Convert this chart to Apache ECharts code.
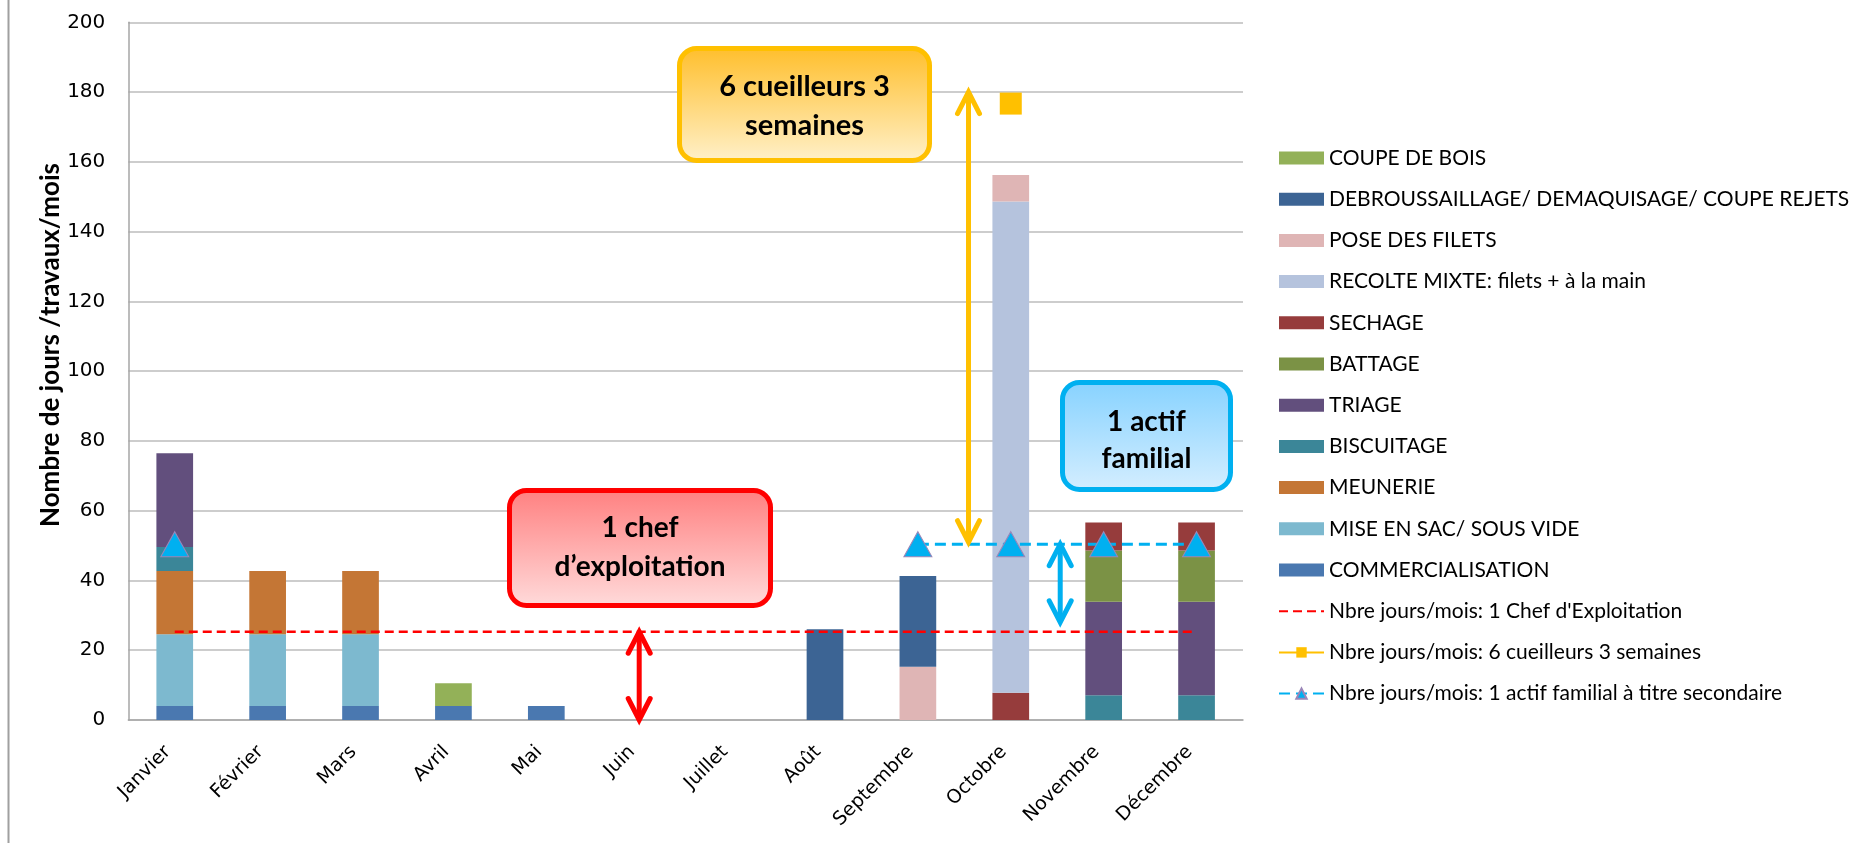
<!DOCTYPE html>
<html><head><meta charset="utf-8">
<script src="https://cdn.jsdelivr.net/npm/echarts@6/dist/echarts.min.js"></script>
<style>html,body{margin:0;padding:0;background:#fff}#c{width:1856px;height:843px}</style>
</head><body><div id="c"></div>
<script>
// ---- data ----
const months = ['Janvier','Février','Mars','Avril','Mai','Juin','Juillet','Août','Septembre','Octobre','Novembre','Décembre'];
const yTicks = [0,20,40,60,80,100,120,140,160,180,200];
// stacked activities (bottom -> top)
const commercialisation = [4,4,4,4,4,null,null,null,null,null,null,null];
const miseEnSac        = [20.6,20.6,20.6,null,null,null,null,null,null,null,null,null];
const meunerie         = [18.1,18.1,18.1,null,null,null,null,null,null,null,null,null];
const biscuitage       = [6.9,null,null,null,null,null,null,null,null,null,7.1,7.1];
const triage           = [26.9,null,null,null,null,null,null,null,null,null,26.8,26.8];
const battage          = [null,null,null,null,null,null,null,null,null,null,14.7,14.7];
const sechage          = [null,null,null,null,null,null,null,null,null,7.8,8.0,8.0];
const recolteMixte     = [null,null,null,null,null,null,null,null,null,140.8,null,null];
const poseFilets       = [null,null,null,null,null,null,null,null,15.3,7.6,null,null];
const debroussaillage  = [null,null,null,null,null,null,null,26.0,26.0,null,null,null];
const coupeBois        = [null,null,null,6.5,null,null,null,null,null,null,null,null];
// reference lines
const chefExploitation = [25.3,25.3,25.3,25.3,25.3,25.3,25.3,25.3,25.3,25.3,25.3,25.3];
const cueilleurs       = [null,null,null,null,null,null,null,null,null,176.7,null,null];
const actifFamilial    = [50.4,null,null,null,null,null,null,null,50.4,50.4,50.4,50.4];

const barDefs = [
  ['COMMERCIALISATION', commercialisation, '#4A78B0'],
  ['MISE EN SAC/ SOUS VIDE', miseEnSac, '#7DB9CF'],
  ['MEUNERIE', meunerie, '#C47635'],
  ['BISCUITAGE', biscuitage, '#3B8698'],
  ['TRIAGE', triage, '#624F7D'],
  ['BATTAGE', battage, '#7B9245'],
  ['SECHAGE', sechage, '#963C3C'],
  ['RECOLTE MIXTE: filets + à la main', recolteMixte, '#B5C3DD'],
  ['POSE DES FILETS', poseFilets, '#DFB5B5'],
  ['DEBROUSSAILLAGE/ DEMAQUISAGE/ COUPE REJETS', debroussaillage, '#3C6494'],
  ['COUPE DE BOIS', coupeBois, '#93B158']
];
const lineNames = ["Nbre jours/mois: 1 Chef d'Exploitation","Nbre jours/mois: 6 cueilleurs 3 semaines","Nbre jours/mois: 1 actif familial à titre secondaire"];
const yTitle = 'Nombre de jours /travaux/mois';

const chart = echarts.init(document.getElementById('c'));
const series = barDefs.map(d => ({
  name: d[0], type: 'bar', stack: 'jours', data: d[1], barWidth: '39.5%',
  itemStyle: {color: d[2]}, emphasis: {disabled: true}
}));
series.push({
  name: lineNames[0], type: 'line', data: chefExploitation, symbol: 'none', z: 5,
  lineStyle: {color: '#FF0000', width: 2.5, type: [9,5]}, itemStyle: {color: '#FF0000'}
});
series.push({
  name: lineNames[1], type: 'line', data: cueilleurs, symbol: 'rect', symbolSize: 22, z: 6,
  lineStyle: {color: '#FFC000', width: 3}, itemStyle: {color: '#FFC000'}
});
series.push({
  name: lineNames[2], type: 'line', data: actifFamilial, symbol: 'triangle', symbolSize: [28,25], z: 7,
  connectNulls: false, showSymbol: true,
  lineStyle: {color: '#00B0F0', width: 3, type: [11,6]},
  itemStyle: {color: '#00B0F0', borderColor: '#9A86B8', borderWidth: 1}
});

const legendData = barDefs.slice().reverse().map(d => ({name: d[0], icon: 'rect'}))
  .concat([
    {name: lineNames[0], itemStyle: {opacity: 0}},
    {name: lineNames[1]},
    {name: lineNames[2]}
  ]);

chart.setOption({
  animation: false,
  grid: {left: 128.3, right: 613, top: 22.3, bottom: 123, containLabel: false},
  legend: {
    orient: 'vertical', left: 1273, top: 142, data: legendData,
    itemWidth: 45, itemHeight: 13, itemGap: 19.2, selectedMode: false,
    textStyle: {fontFamily: 'Lato', fontSize: 21, color: '#000', lineHeight: 22, padding: [0,0,0,0]}
  },
  xAxis: {
    type: 'category', data: months,
    axisLine: {lineStyle: {color: '#A6A6A6', width: 1.5}},
    axisTick: {show: false},
    axisLabel: {interval: 0, rotate: 45, margin: 22, padding: [0,10,0,0], fontFamily: 'DejaVu Sans', fontSize: 19, color: '#000'}
  },
  yAxis: {
    type: 'value', min: 0, max: 200, interval: 20,
    axisLine: {show: true, lineStyle: {color: '#A6A6A6', width: 1.5}},
    axisTick: {show: false},
    splitLine: {lineStyle: {color: '#BDBDBD', width: 1.5}},
    axisLabel: {margin: 23, fontFamily: 'DejaVu Sans', fontSize: 20, color: '#000',
      formatter: v => yTicks.indexOf(v) >= 0 ? String(v) : ''}
  },
  series: series
});

// ---- annotations ----
const py = v => chart.convertToPixel({yAxisIndex: 0}, v);
const px = m => chart.convertToPixel({xAxisIndex: 0}, m);
function box(x0, y0, x1, y1, stroke, c0, c1, lines, ly, fs) {
  const els = [{
    type: 'rect', z: 50,
    shape: {x: x0 + 2.5, y: y0 + 2.5, width: x1 - x0 - 5, height: y1 - y0 - 5, r: 17},
    style: {fill: new echarts.graphic.LinearGradient(0,0,0,1,[{offset:0,color:c0},{offset:1,color:c1}]), stroke: stroke, lineWidth: 5}
  }];
  lines.forEach((t, i) => els.push({
    type: 'text', z: 51, x: (x0 + x1) / 2, y: ly[i],
    style: {text: t, fill: '#000', font: 'bold ' + fs + 'px Lato', align: 'center', verticalAlign: 'middle'}
  }));
  return els;
}
function arrow(x, yTop, yBot, color) {
  const aw = 11, ah = 21.5, lw = 5;
  return [
    {type: 'line', z: 40, shape: {x1: x, y1: yTop + 2, x2: x, y2: yBot - 2}, style: {stroke: color, lineWidth: lw, lineCap: 'round'}},
    {type: 'polyline', z: 40, shape: {points: [[x - aw, yTop + ah], [x, yTop], [x + aw, yTop + ah]]}, style: {stroke: color, lineWidth: lw, fill: null, lineCap: 'round', lineJoin: 'miter'}},
    {type: 'polyline', z: 40, shape: {points: [[x - aw, yBot - ah], [x, yBot], [x + aw, yBot - ah]]}, style: {stroke: color, lineWidth: lw, fill: null, lineCap: 'round', lineJoin: 'miter'}}
  ];
}
const xJun = px('Juin');
const xSep = px('Septembre'), xOct = px('Octobre'), xNov = px('Novembre');
const els = [].concat(
  [{type: 'line', shape: {x1: 8.5, y1: 0, x2: 8.5, y2: 843}, style: {stroke: '#A0A0A0', lineWidth: 2}}],
  [{type: 'text', x: 51, y: 345, rotation: Math.PI / 2,
    style: {text: yTitle, fill: '#000', font: 'bold 26px Lato', align: 'center', verticalAlign: 'middle'}}],
  arrow(xJun, py(chefExploitation[5]), py(0), '#FF0000'),
  arrow(xSep + 0.545 * (xOct - xSep), py(180), py(actifFamilial[9]) - 2, '#FFC000'),
  arrow((xOct + xNov) / 2 + 3, py(actifFamilial[9]), py(28), '#00B0F0'),
  box(507, 488, 773, 608, '#FF0000', '#FF7F7F', '#FFDCDC', ['1 chef', 'd\u2019exploitation'], [528, 567], 28),
  box(677, 46, 932, 163, '#FFC000', '#FFBE2A', '#FFF1CB', ['6 cueilleurs 3', 'semaines'], [87, 126], 29),
  box(1060, 380, 1233, 492, '#00B0F0', '#86D2FF', '#D5EEFF', ['1 actif', 'familial'], [421.5, 458.5], 28)
);
chart.setOption({graphic: {elements: els}});
</script></body></html>
